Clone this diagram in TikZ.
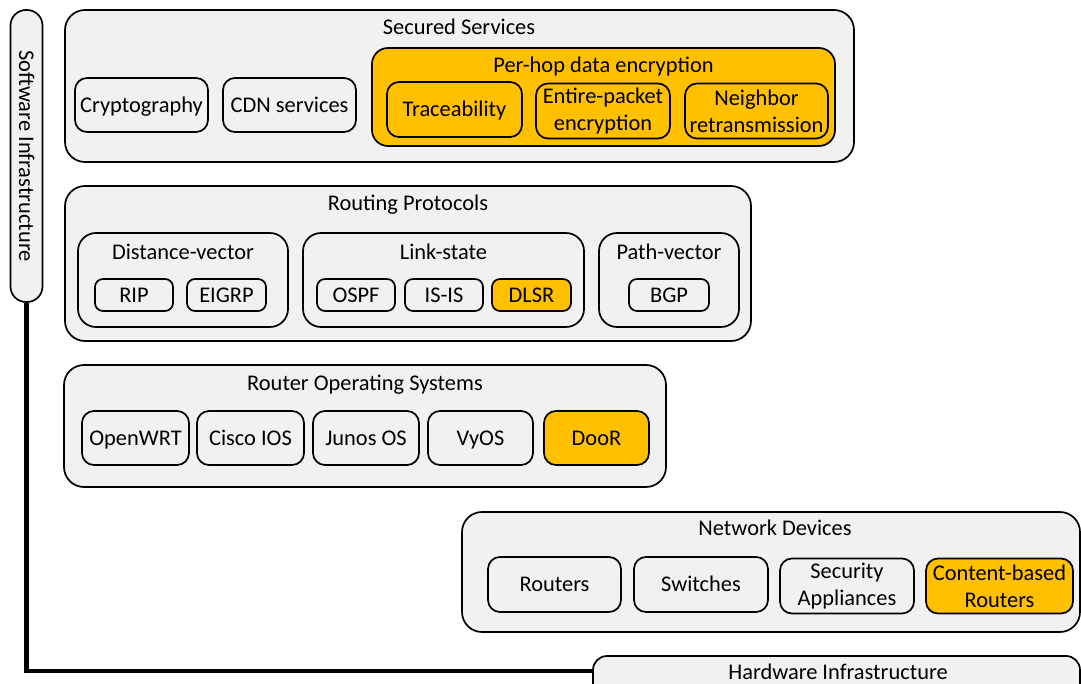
\documentclass[tikz,border=0pt]{standalone}
\usepackage{fontspec}
\setmainfont{Carlito}
\definecolor{boxgray}{HTML}{F1F1F1}
\definecolor{hl}{HTML}{FFC000}
\tikzset{
  base/.style={draw=black, line width=1.7pt, fill=boxgray, inner sep=0pt, align=center,
    font=\fontsize{22.4}{27}\selectfont, text height=17pt, text depth=2.5pt},
  two/.style={text height={}, text depth={}, yshift=-1.5pt},
  outer/.style={base, rounded corners=20pt},
  inner/.style={base, rounded corners=12pt},
  small/.style={base, rounded corners=8pt},
  hlbox/.style={fill=hl},
  ttl/.style={inner sep=0pt, font=\fontsize{22.4}{27}\selectfont, text height=17pt, text depth=2.5pt},
  bx/.style n args={2}{minimum width=#1pt, minimum height=#2pt},
}
\begin{document}
\begin{tikzpicture}[x=1pt,y=-1pt]
\useasboundingbox (0,0) rectangle (1081,684);
\clip (0,0) rectangle (1081,684);

% Software infrastructure pill
\node[base, rounded corners=15.5pt, rotate=-90, bx={292}{32}] (sw) at (26.5,156) {Software Infrastructure};

% Hardware infrastructure
\node[outer, rounded corners=14pt, bx={487}{64}] (hw) at (836.5,688) {};
\node[ttl] (hwt) at (838,672) {Hardware Infrastructure};
\coordinate (hwport) at ([yshift=-16pt]hw.north west);
\draw[line width=4.5pt] (sw.east) |- (hwport);

% Secured Services
\node[outer, bx={789}{152}] (sec) at (459.5,86) {};
\node[ttl] (sect) at (459,27) {Secured Services};
\node[inner, bx={133}{54}] (crypto) at (141.5,105) {Cryptography};
\node[inner, bx={133}{54}] (cdn) at (289.5,105) {CDN services};
\node[outer, hlbox, rounded corners=16pt, bx={463}{98}] (phe) at (603.5,97) {};
\node[ttl] (phet) at (603.5,65) {Per-hop data encryption};
\node[inner, hlbox, bx={135}{55}] (trace) at (454.5,109.5) {Traceability};
\node[inner, hlbox, two, bx={134}{55}] (entire) at (603,109.5) {Entire-packet\\encryption};
\node[inner, hlbox, two, bx={143}{55}] (neigh) at (756.5,109.5) {Neighbor\\retransmission};

% Routing Protocols
\node[outer, bx={686}{155}] (rp) at (408,263.5) {};
\node[ttl] (rpt) at (408,203) {Routing Protocols};
\node[outer, rounded corners=18pt, bx={210}{94}] (dv) at (183,280) {};
\node[ttl] (dvt) at (183,252) {Distance-vector};
\node[small, bx={78}{32}] (rip) at (134,295) {RIP};
\node[small, bx={79}{32}] (eigrp) at (226.5,295) {EIGRP};
\node[outer, rounded corners=18pt, bx={281}{94}] (ls) at (443.5,280) {};
\node[ttl] (lst) at (443.5,252) {Link-state};
\node[small, bx={78}{32}] (ospf) at (356,295) {OSPF};
\node[small, bx={78}{32}] (isis) at (444,295) {IS-IS};
\node[small, hlbox, bx={79}{32}] (dlsr) at (531.5,295) {DLSR};
\node[outer, rounded corners=18pt, bx={140}{94}] (pv) at (669,280) {};
\node[ttl] (pvt) at (669,252) {Path-vector};
\node[small, bx={80}{32}] (bgp) at (669,295) {BGP};

% Router Operating Systems
\node[outer, bx={602}{122}] (ros) at (365,426) {};
\node[ttl] (rost) at (365,383) {Router Operating Systems};
\node[inner, bx={107}{54}] (owrt) at (135.5,438) {OpenWRT};
\node[inner, bx={107}{54}] (cisco) at (250.5,438) {Cisco IOS};
\node[inner, bx={106}{54}] (junos) at (366,438) {Junos OS};
\node[inner, bx={105}{54}] (vyos) at (480.5,438) {VyOS};
\node[inner, hlbox, bx={105}{54}] (door) at (596.5,438) {DooR};

% Network Devices
\node[outer, bx={618}{120}] (nd) at (771,572) {};
\node[ttl] (ndt) at (775,528) {Network Devices};
\node[inner, bx={133}{55}] (routers) at (554.5,584.5) {Routers};
\node[inner, bx={134}{55}] (switches) at (701,584.5) {Switches};
\node[inner, two, bx={134}{55}] (secapp) at (847,584.5) {Security\\Appliances};
\node[inner, hlbox, two, bx={147}{55}] (cbr) at (999.5,584.5) {Content-based\\Routers};
\end{tikzpicture}
\end{document}
